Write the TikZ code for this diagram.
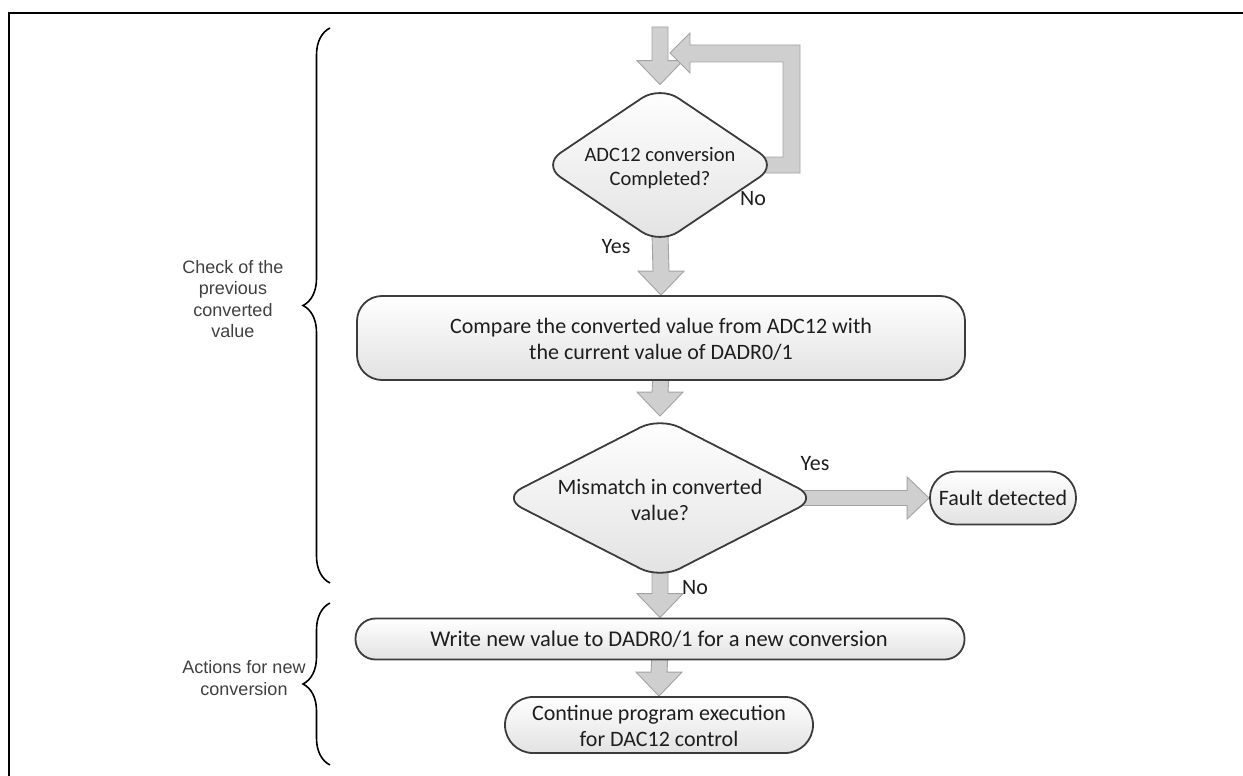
\documentclass[tikz,border=0pt]{standalone}
\usepackage{fontspec}
\setmainfont{Carlito}
\newfontfamily\arialfont{Liberation Sans}
\usetikzlibrary{shapes.geometric,calc,decorations.pathreplacing,backgrounds}
\definecolor{arrowfill}{HTML}{CFCFCF}
\definecolor{arrowline}{HTML}{A3A3A3}
\definecolor{boxline}{HTML}{3C3C3C}
\definecolor{boxbot}{HTML}{E2E2E2}
\definecolor{labelgray}{HTML}{404040}
\definecolor{flowink}{HTML}{1E1E1E}
% vertical block arrow: #1 start point, #2 tip
\newcommand\vblock[2]{\path[blockarrow] ($(#1)+(-8,0)$) -- ($(#1)+(8,0)$) -- ($(#2)+(8,-24)$) -- ($(#2)+(23,-24)$) -- (#2) -- ($(#2)+(-23,-24)$) -- ($(#2)+(-8,-24)$) -- cycle;}
% horizontal block arrow (left to right)
\newcommand\hblock[2]{\path[blockarrow] ($(#1)+(0,-7.5)$) -- ($(#2)+(-22,-7.5)$) -- ($(#2)+(-22,-21)$) -- (#2) -- ($(#2)+(-22,21)$) -- ($(#2)+(-22,7.5)$) -- ($(#1)+(0,7.5)$) -- cycle;}
\begin{document}
\begin{tikzpicture}[x=1pt,y=-1pt,
  flowtext/.style={font=\fontsize{22}{26}\selectfont, text=flowink, align=center},
  procbox/.style={draw=boxline, line width=1.8pt, top color=white, bottom color=boxbot, rectangle, inner sep=0pt},
  decision/.style={procbox, diamond, rounded corners=22pt},
  blockarrow/.style={fill=arrowfill, draw=arrowline, line width=0.9pt, line join=miter},
  sidebrace/.style={decorate, decoration={brace, amplitude=27pt}, line width=1.6pt},
  sidetext/.style={font=\arialfont\fontsize{18}{21.5}\selectfont, text=labelgray, align=center},
  answer/.style={font=\fontsize{22}{26}\selectfont, text=flowink}]
\useasboundingbox (0,0) rectangle (1243,776);
% frame
\draw[line width=2.7pt] (9,776) -- (9,13) -- (1243,13);

% nodes
\node[decision, minimum width=236, minimum height=159] (d1) at (660,165) {};
\node[flowtext, font=\fontsize{20.5}{24}\selectfont] (d1t) at (660,168) {ADC12 conversion\\Completed?};
\node[procbox, rounded corners=25pt, minimum width=608, minimum height=84] (cmp) at (661,338) {};
\node[flowtext] (cmpt) at (661,339) {Compare the converted value from ADC12 with\\the current value of DADR0/1};
\node[decision, minimum width=316, minimum height=162] (d2) at (660,498) {};
\node[flowtext] (d2t) at (660,500) {Mismatch in converted\\value?};
\node[procbox, rounded corners=26pt, minimum width=146, minimum height=53] (fault) at (1003,498) {};
\node[flowtext] (faultt) at (1003,498) {Fault detected};
\node[procbox, rounded corners=20pt, minimum width=609, minimum height=41] (write) at (660,639) {};
\node[flowtext, font=\fontsize{22.5}{26}\selectfont] (writet) at (659,639) {Write new value to DADR0/1 for a new conversion};
\node[procbox, rounded corners=28pt, minimum width=308, minimum height=56] (cont) at (659,725) {};
\node[flowtext] (contt) at (659,726) {Continue program execution\\for DAC12 control};

\coordinate (topin) at (660,27);

% connectors
\begin{scope}[on background layer]
  \vblock{topin}{d1.north}
  \vblock{$(d1.south)+(0,-12)$}{cmp.north}
  \vblock{$(cmp.south)+(0,-6)$}{d2.north}
  \vblock{$(d2.south)+(0,-12)$}{write.north}
  \vblock{$(write.south)+(0,-6)$}{cont.north}
  \hblock{$(d2.east)+(-30,0)$}{fault.west}
  \path[blockarrow] ($(d1.east)+(-30,-8)$) -- (783,157) -- (783,62) -- (690,62) -- (690,73) -- (670,53) -- (690,33) -- (690,45) -- (800,45) -- (800,173) -- ($(d1.east)+(-30,8)$) -- cycle;
\end{scope}

% answers
\node[answer] (no1) at (753,199) {No};
\node[answer] (yes1) at (616,247) {Yes};
\node[answer] (yes2) at (815,464) {Yes};
\node[answer] (no2) at (695,588) {No};

% braces
\draw[sidebrace] (330,583) -- (330,28);
\node[sidetext] (lab1) at (233,299) {Check of the\\previous\\converted\\value};
\draw[sidebrace] (330,765) -- (330,603);
\node[sidetext] (lab2) at (244,678) {Actions for new\\conversion};
\end{tikzpicture}
\end{document}
